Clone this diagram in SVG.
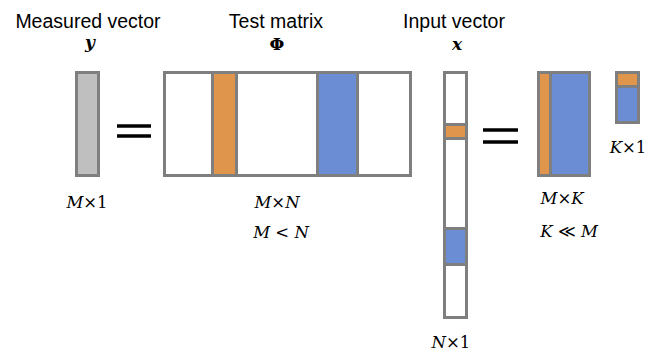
<svg xmlns="http://www.w3.org/2000/svg" width="655" height="352" viewBox="0 0 655 352">
  <style>
    .box { stroke: #7f7f7f; stroke-width: 3; }
    .white { fill: #ffffff; }
    .grey { fill: #bfbfbf; }
    .orange { fill: #e0954d; }
    .blue { fill: #6a8dd4; }
    .title { font-family: "Liberation Sans", Arial, sans-serif; font-size: 19.5px; fill: #000; text-anchor: middle; }
    .sym { font-family: "DejaVu Serif", "Liberation Serif", serif; font-style: italic; font-weight: bold; font-size: 17px; fill: #000; text-anchor: middle; }
    .dim { font-family: "DejaVu Serif", "Liberation Serif", serif; font-style: italic; font-size: 16.5px; fill: #000; text-anchor: middle; }
    .up { font-style: normal; }
    .eq { stroke: #000; stroke-width: 3.5; }
  </style>

  <!-- measured vector y -->
  <g id="vector-y">
    <text class="title" x="88" y="28">Measured vector</text>
    <text class="sym" x="90" y="48">y</text>
    <rect class="box grey" x="76.5" y="72.5" width="22" height="103"/>
    <text class="dim" x="87" y="208">M<tspan class="up">×1</tspan></text>
  </g>

  <!-- equals sign -->
  <g id="equals-1">
    <line class="eq" x1="117" y1="126" x2="151" y2="126"/>
    <line class="eq" x1="117" y1="136" x2="151" y2="136"/>
  </g>

  <!-- test matrix Phi -->
  <g id="matrix-phi">
    <text class="title" x="276" y="28">Test matrix</text>
    <text class="sym up" x="277" y="50">Φ</text>
    <rect class="box white" x="164.5" y="72.5" width="246" height="103"/>
    <rect class="box orange" x="212.5" y="72.5" width="24" height="103"/>
    <rect class="box blue" x="317.5" y="72.5" width="40" height="103"/>
    <text class="dim" x="277" y="208">M<tspan class="up">×</tspan>N</text>
    <text class="dim" x="281" y="238">M <tspan class="up">&lt;</tspan> N</text>
  </g>

  <!-- input vector x -->
  <g id="vector-x">
    <text class="title" x="454" y="28">Input vector</text>
    <text class="sym" x="457" y="50">x</text>
    <rect class="box white" x="444.5" y="72.5" width="22" height="245"/>
    <rect class="box orange" x="444.5" y="124.5" width="22" height="14"/>
    <rect class="box blue" x="444.5" y="228.5" width="22" height="36"/>
    <text class="dim" x="451" y="348">N<tspan class="up">×1</tspan></text>
  </g>

  <!-- equals sign -->
  <g id="equals-2">
    <line class="eq" x1="483" y1="130" x2="518" y2="130"/>
    <line class="eq" x1="483" y1="142" x2="518" y2="142"/>
  </g>

  <!-- reduced matrix M x K -->
  <g id="matrix-mk">
    <rect class="box blue" x="538.5" y="72.5" width="51" height="103"/>
    <rect class="box orange" x="538.5" y="72.5" width="12" height="103"/>
    <text class="dim" x="562" y="204">M<tspan class="up">×</tspan>K</text>
    <text class="dim" x="569" y="237">K <tspan class="up">≪</tspan> M</text>
  </g>

  <!-- sparse vector K x 1 -->
  <g id="vector-k">
    <rect class="box blue" x="616.5" y="72.5" width="22" height="50"/>
    <rect class="box orange" x="616.5" y="72.5" width="22" height="14"/>
    <text class="dim" x="628" y="153">K<tspan class="up">×1</tspan></text>
  </g>
</svg>
